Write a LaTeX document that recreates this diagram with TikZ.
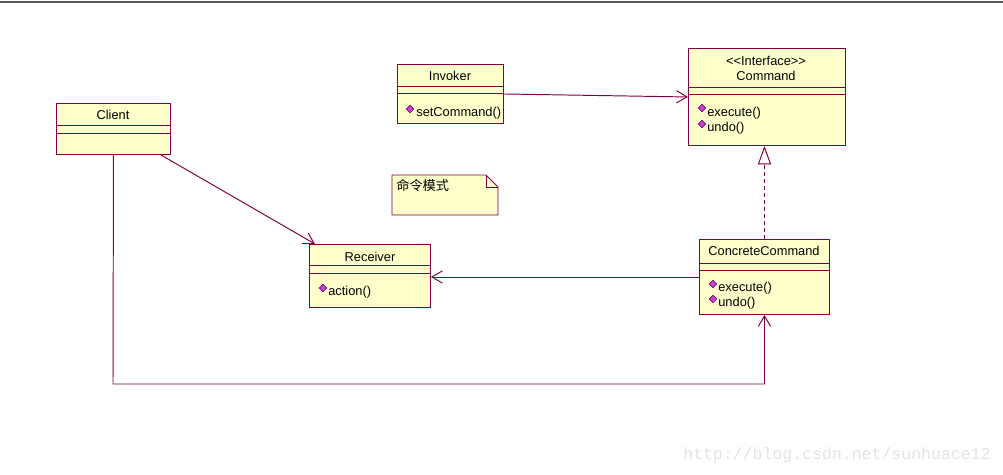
\documentclass[tikz,border=0pt]{standalone}
\usepackage{fontspec}
\newfontfamily\umlfont{Liberation Sans}
\newfontfamily\cjkfont{Noto Sans CJK SC}
\newfontfamily\markfont{Liberation Mono}
\usetikzlibrary{positioning,arrows.meta}

\definecolor{umlline}{RGB}{128,0,64}
\definecolor{umlfill}{RGB}{255,255,204}
\definecolor{opfill}{RGB}{210,60,210}
\definecolor{opedge}{RGB}{90,0,90}

\tikzset{
  umlbox/.style={draw=umlline, fill=umlfill, line width=0.55pt, anchor=north west, inner sep=0pt},
  compline/.style={draw=umlline, line width=0.55pt},
  umltext/.style={font=\umlfont\fontsize{7.3}{9}\selectfont, inner sep=0pt},
  umlop/.style={umltext, anchor=west},
  opicon/.style={draw=opedge, fill=opfill, line width=0.3pt, minimum size=3.1pt, inner sep=0pt, rotate=45},
  assoc/.style={draw=umlline, line width=0.55pt, -{Straight Barb[length=6pt,width=7pt]}},
  realize/.style={draw=umlline, line width=0.55pt, dash pattern=on 2.3pt off 1.7pt,
    -{Triangle[open,length=10.5pt,width=7.5pt,fill=white]}},
}

\begin{document}
\begin{tikzpicture}[x=0.02cm,y=-0.02cm]
\useasboundingbox (0,0) rectangle (1003,474);
%---------------------Top rule------------------%
\draw[gray!70!black,line width=1.1pt] (0,2) -- (1003,2);

%---------------------Invoker------------------%
\node[umlbox,minimum width=2.12cm,minimum height=1.18cm] (invoker) at (397,64) {};
\draw[compline] (invoker.north west) ++(0,22) -- ++(106,0) ++(-106,7) -- ++(106,0);
\node[umltext] (invokername) at (450,76) {Invoker};
\node[opicon] (invokericon) at (410,109) {};
\node[umlop] (setcommand) at (416,113) {setCommand()};

%---------------------Command------------------%
\node[umlbox,minimum width=3.14cm,minimum height=1.94cm] (command) at (688,48) {};
\draw[compline] (command.north west) ++(0,39) -- ++(157,0) ++(-157,7) -- ++(157,0);
\node[umltext] (stereotype) at (766,61) {<<Interface>>};
\node[umltext] (commandname) at (766,76) {Command};
\node[opicon] (executeicon) at (702,108) {};
\node[umlop] (execute) at (707,113) {execute()};
\node[opicon] (undoicon) at (702,124) {};
\node[umlop] (undo) at (707,128) {undo()};

%---------------------Client------------------%
\node[umlbox,minimum width=2.28cm,minimum height=1.02cm] (client) at (56,103) {};
\draw[compline] (client.north west) ++(0,22) -- ++(114,0) ++(-114,8) -- ++(114,0);
\node[umltext] (clientname) at (113,115) {Client};

%---------------------Note------------------%
\draw[compline,fill=umlfill] (392,175) -- (486,175) -- (498,187) -- (498,215) -- (392,215) -- cycle;
\draw[compline] (486,175) -- (486,187) -- (498,187);
\node[font=\cjkfont\fontsize{7.5}{9}\selectfont,inner sep=0pt,anchor=west] (notetext) at (396,185) {命令模式};

%---------------------Receiver------------------%
\node[umlbox,minimum width=2.42cm,minimum height=1.26cm] (receiver) at (309,244) {};
\draw[compline] (receiver.north west) ++(0,21) -- ++(121,0) ++(-121,8) -- ++(121,0);
\node[umltext] (receivername) at (370,257) {Receiver};
\node[opicon] (actionicon) at (323,288) {};
\node[umlop] (action) at (328,292) {action()};

%---------------------ConcreteCommand------------------%
\node[umlbox,minimum width=2.6cm,minimum height=1.5cm] (concrete) at (699,239) {};
\draw[compline] (concrete.north west) ++(0,24) -- ++(130,0) ++(-130,7) -- ++(130,0);
\node[umltext] (concretename) at (764,251) {ConcreteCommand};
\node[opicon] (cexecuteicon) at (713,284) {};
\node[umlop] (cexecute) at (718,288) {execute()};
\node[opicon] (cundoicon) at (713,299) {};
\node[umlop] (cundo) at (718,303) {undo()};

%---------------------Connectors------------------%
\draw[assoc] (invoker.east) -- (command.west);
\draw[assoc] ([xshift=-0.2cm]client.south east) -- ([xshift=0.12cm]receiver.north west);
\draw[assoc] (concrete.west) -- (concrete.west -| receiver.east);
\draw[realize] (concrete.north) -- (concrete.north |- command.south);
\coordinate (clientturn) at (113,384);
\draw[assoc] (client.south) -- (clientturn) -| (concrete.south);

%---------------------Watermark------------------%
\node[font=\markfont\fontsize{9.4}{11}\selectfont,text=gray!22,inner sep=0pt,anchor=west] (mark) at (683,455) {http://blog.csdn.net/sunhuace12};
\end{tikzpicture}
\end{document}
